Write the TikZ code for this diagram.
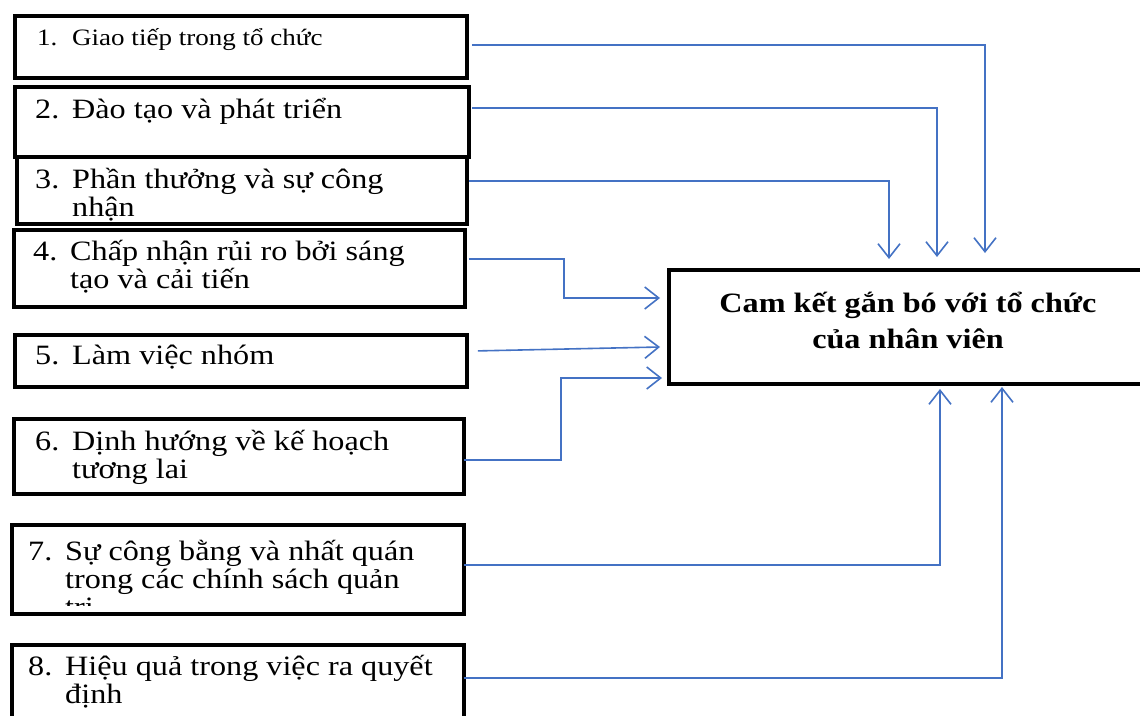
\documentclass[tikz,border=0pt]{standalone}
\usepackage{fontspec}
\setmainfont{Liberation Serif}[FakeStretch=1.15]
\usetikzlibrary{arrows.meta}
\definecolor{linkblue}{HTML}{4472C4}
% one numbered entry: number in a fixed column, continuation lines indented
\newcommand\numline[2]{\hbox{\makebox[37pt][l]{#1}#2}}
\newcommand\contline[1]{\hbox{\hspace*{37pt}#1}}
\newcommand\entrylines[1]{\vtop{\lineskiplimit=-\maxdimen\baselineskip=28pt #1}}
\tikzset{
  box/.style={draw=black, line width=3.8pt, rectangle, inner sep=0pt, anchor=north west},
  lbl/.style={inner sep=0pt, anchor=base west, font=\fontsize{28}{28}\selectfont},
  conn/.style={draw=linkblue, line width=1.6pt, -{Straight Barb[length=14pt,width=22pt]}},
}
\begin{document}
\begin{tikzpicture}[x=1pt, y=-1pt]
\useasboundingbox (0,0) rectangle (1140,715);
\fill[white] (0,0) rectangle (1140,715);

% factor boxes
\node[box, minimum width=452pt, minimum height=62pt] (b1) at (13,14) {};
\node[box, minimum width=454pt, minimum height=70pt] (b2) at (13,85) {};
\node[box, minimum width=450pt, minimum height=67pt] (b3) at (15,155) {};
\node[box, minimum width=451pt, minimum height=77pt] (b4) at (12,228) {};
\node[box, minimum width=452pt, minimum height=52pt] (b5) at (13,333) {};
\node[box, minimum width=450pt, minimum height=75pt] (b6) at (12,417) {};
\node[box, minimum width=452pt, minimum height=89pt] (b7) at (10,523) {};
\node[box, minimum width=452pt, minimum height=90pt] (b8) at (10,643) {};

% outcome box
\node[box, minimum width=483pt, minimum height=114pt] (m) at (667,268) {};
\node[inner sep=0pt, anchor=base, font=\bfseries\fontsize{28}{36}\selectfont] (mt) at (908,312)
  {\vtop{\lineskiplimit=-\maxdimen\baselineskip=36pt
   \hbox to 0pt{\hss Cam kết gắn bó với tổ chức\hss}
   \hbox to 0pt{\hss của nhân viên\hss}}};

% factor labels
\node[lbl, font=\fontsize{23.5}{28}\selectfont] (t1) at (37,45)
  {\entrylines{\hbox{\makebox[35pt][l]{1.}Giao tiếp trong tổ chức}}};
\node[lbl] (t2) at (35,118) {\entrylines{\numline{2.}{Đào tạo và phát triển}}};
\node[lbl] (t3) at (35,188) {\entrylines{\numline{3.}{Phần thưởng và sự công}\contline{nhận}}};
\node[lbl] (t4) at (33,260) {\entrylines{\numline{4.}{Chấp nhận rủi ro bởi sáng}\contline{tạo và cải tiến}}};
\node[lbl] (t5) at (35,364) {\entrylines{\numline{5.}{Làm việc nhóm}}};
\node[lbl] (t6) at (35,450) {\entrylines{\numline{6.}{Dịnh hướng về kế hoạch}\contline{tương lai}}};
\begin{scope}
  \clip (10,523) rectangle (462,605);
  \node[lbl] (t7) at (28,560) {\entrylines{\numline{7.}{Sự công bằng và nhất quán}\contline{trong các chính sách quản}\contline{trị}}};
\end{scope}
\node[lbl] (t8) at (28,675) {\entrylines{\numline{8.}{Hiệu quả trong việc ra quyết}\contline{định}}};

% arrow ends near the outcome box
\coordinate (e1) at (985,253);
\coordinate (e2) at (937,257);
\coordinate (e3) at (889,259);
\coordinate (e4) at (660,298);
\coordinate (e5) at (660,347);
\coordinate (e6) at (662,378);
\coordinate (e7) at (940,389);
\coordinate (e8) at (1002,387);

% connectors
\draw[conn] ([shift={(3,-2)}]b1.east) -| (e1);
\draw[conn] ([shift={(1.25,-14)}]b2.east) -| (e2);
\draw[conn] ([shift={(0,-9.5)}]b3.east) -| (e3);
\draw[conn] ([shift={(2,-9.5)}]b4.east) -| ([xshift=-96pt]e4) -- (e4);
\draw[conn] ([shift={(9,-10)}]b5.east) -- (e5);
\draw[conn] ([shift={(-2,3.5)}]b6.east) -| ([xshift=-101pt]e6) -- (e6);
\draw[conn] ([shift={(-2,-4.5)}]b7.east) -| (e7);
\draw[conn] ([shift={(-2,-12)}]b8.east) -| (e8);
\end{tikzpicture}
\end{document}
